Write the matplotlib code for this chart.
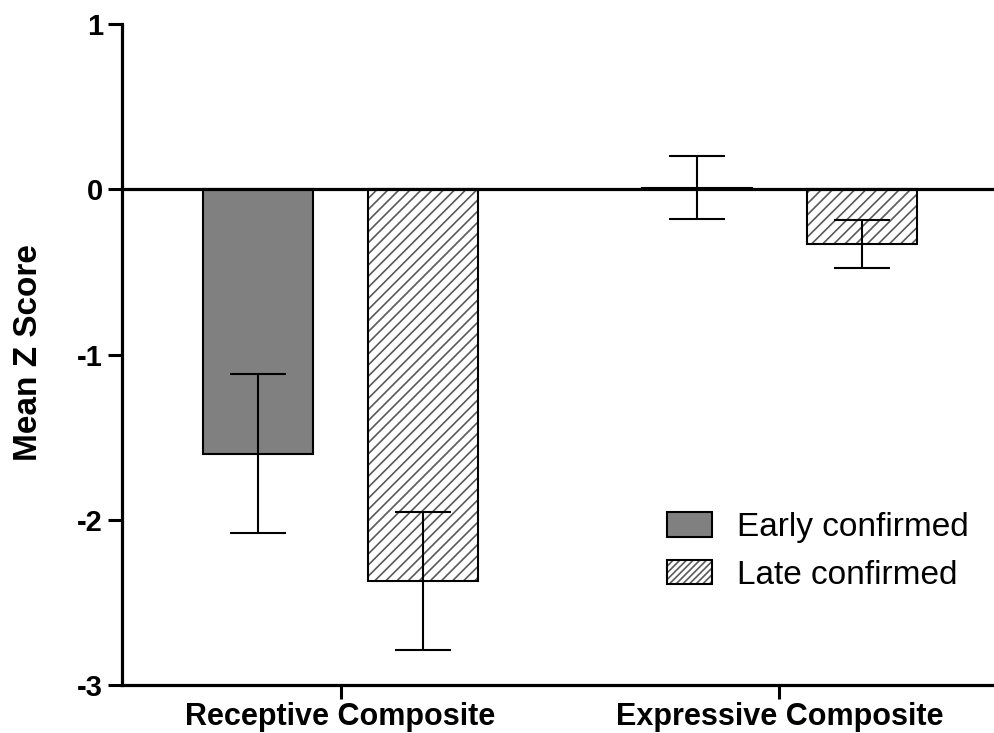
import matplotlib
matplotlib.use("Agg")
import matplotlib.pyplot as plt
import numpy as np
from matplotlib.patches import Patch
from matplotlib.legend_handler import HandlerTuple

plt.rcParams['font.family'] = ['Liberation Sans', 'DejaVu Sans']
plt.rcParams['hatch.linewidth'] = 1.2

categories = ["Receptive Composite", "Expressive Composite"]
series_names = ["Early confirmed", "Late confirmed"]
early_means = [-1.60, 0.01]
early_errs = [0.48, 0.19]
late_means = [-2.37, -0.33]
late_errs = [0.42, 0.145]
yticks = [-3, -2, -1, 0, 1]

fig = plt.figure(figsize=(9.94, 7.33), dpi=100)
ax = fig.add_axes([121.7/994, 48/733, 1 - 121.7/994, (685 - 24.3)/733])

x = np.arange(len(categories))
off = 0.1873
w = 0.2507
xe = x - off
xl = x + off

hatch_col = '#5a5a5a'
ax.bar(xe, early_means, width=w, color='#808080', edgecolor='black', linewidth=1.5, zorder=2)
ax.bar(xl, late_means, width=w, color='white', edgecolor=hatch_col, linewidth=0, hatch='///', zorder=2)
ax.bar(xl, late_means, width=w, color='none', edgecolor='black', linewidth=1.5, zorder=2.1)

ax.axhline(0, color='black', linewidth=2.3, zorder=3)

ax.errorbar(xe, early_means, yerr=early_errs, fmt='none', ecolor='black', elinewidth=1.5,
            capsize=20.5, capthick=1.5, zorder=4)
ax.errorbar(xl, late_means, yerr=late_errs, fmt='none', ecolor='black', elinewidth=1.5,
            capsize=20.5, capthick=1.5, zorder=4)

ax.set_xlim(-0.4986, 1.489)
ax.set_ylim(-3, 1)
ax.set_yticks(yticks)
ax.set_yticklabels([str(t) for t in yticks])
ax.set_xticks(x)
ax.set_xticklabels(categories)

for s in ['top', 'right']:
    ax.spines[s].set_visible(False)
for s in ['left', 'bottom']:
    ax.spines[s].set_linewidth(2.3)

ax.tick_params(axis='y', direction='out', length=10, width=2.2, pad=3.5, labelsize=21)
ax.tick_params(axis='x', direction='out', length=10, width=2.2, pad=2, labelsize=22)
for lab in ax.get_yticklabels() + ax.get_xticklabels():
    lab.set_fontweight('bold')

fig.text(29/994, 1 - 353/733, 'Mean Z Score', rotation=90, ha='center', va='center',
         fontsize=24, fontweight='bold')

h_early = Patch(facecolor='#808080', edgecolor='black', linewidth=1.5)
h_late_hatch = Patch(facecolor='white', edgecolor=hatch_col, linewidth=0, hatch='/////')
h_late_edge = Patch(facecolor='none', edgecolor='black', linewidth=1.5)
leg = ax.legend([h_early, (h_late_hatch, h_late_edge)], series_names,
                handler_map={tuple: HandlerTuple(ndivide=1, pad=0)},
                loc='upper left', bbox_to_anchor=(666.7/994, 1 - 512/733),
                bbox_transform=fig.transFigure, frameon=False, fontsize=24,
                handlelength=1.35, handleheight=0.75, handletextpad=0.75,
                labelspacing=0.5, borderpad=0, borderaxespad=0)

fig.savefig('out.png', dpi=100)
